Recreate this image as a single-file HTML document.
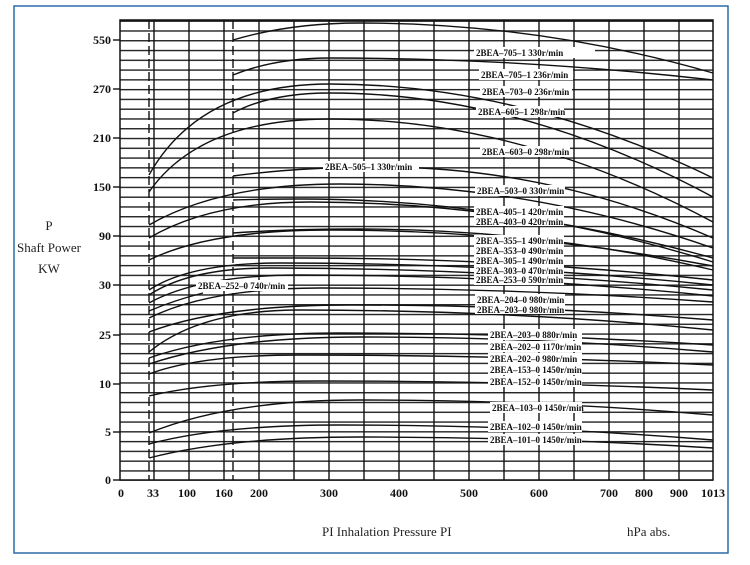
<!DOCTYPE html>
<html><head><meta charset="utf-8"><style>
html,body{margin:0;padding:0;background:#fff;}
svg{display:block;}
.t{font-family:"Liberation Serif",serif;font-weight:bold;font-size:12px;fill:#111;}
.l{font-family:"Liberation Serif",serif;font-weight:bold;font-size:9px;fill:#111;}
.a{font-family:"Liberation Serif",serif;font-size:13px;fill:#222;}
.c{fill:none;stroke:#111;stroke-width:1.4;}
</style></head><body>
<svg width="750" height="565" viewBox="0 0 750 565" xmlns="http://www.w3.org/2000/svg">
<defs>
<pattern id="hp" x="0" y="20.5" width="10" height="9.777" patternUnits="userSpaceOnUse">
<rect x="0" y="0" width="10" height="1.4" fill="#222"/>
</pattern>
</defs>
<rect x="14" y="6" width="714" height="547" fill="none" stroke="#2a6ca8" stroke-width="1.5"/>
<rect x="120" y="19.8" width="593" height="461" fill="url(#hp)"/>
<rect x="120" y="20" width="593" height="460" fill="none" stroke="#111" stroke-width="1.5"/>
<g stroke="#111" stroke-width="1.4">
<line x1="154" y1="20" x2="154" y2="480"/><line x1="189" y1="20" x2="189" y2="480"/>
<line x1="224" y1="20" x2="224" y2="480"/><line x1="259" y1="20" x2="259" y2="480"/>
<line x1="294" y1="20" x2="294" y2="480"/><line x1="329" y1="20" x2="329" y2="480"/>
<line x1="364" y1="20" x2="364" y2="480"/><line x1="399" y1="20" x2="399" y2="480"/>
<line x1="434" y1="20" x2="434" y2="480"/><line x1="469" y1="20" x2="469" y2="480"/>
<line x1="504" y1="20" x2="504" y2="480"/><line x1="539" y1="20" x2="539" y2="480"/>
<line x1="574" y1="20" x2="574" y2="480"/><line x1="609" y1="20" x2="609" y2="480"/>
<line x1="644" y1="20" x2="644" y2="480"/><line x1="679" y1="20" x2="679" y2="480"/>
<line x1="149" y1="20" x2="149" y2="480" stroke-dasharray="9,4"/>
<line x1="233" y1="20" x2="233" y2="480" stroke-dasharray="9,4"/>
<line x1="113" y1="40" x2="120" y2="40"/><line x1="113" y1="89" x2="120" y2="89"/>
<line x1="113" y1="138" x2="120" y2="138"/><line x1="113" y1="187" x2="120" y2="187"/>
<line x1="113" y1="236" x2="120" y2="236"/><line x1="113" y1="285" x2="120" y2="285"/>
<line x1="113" y1="335" x2="120" y2="335"/><line x1="113" y1="384" x2="120" y2="384"/>
<line x1="113" y1="432" x2="120" y2="432"/><line x1="113" y1="480" x2="120" y2="480"/>
</g>
<g class="c">
<path d="M233 40 Q290 23 360 23 Q540 23 713 73"/>
<path d="M233 75 Q275 58 330 58 Q520 58 713 80"/>
<path d="M149 175 Q200 84 330 84 Q520 84 713 178"/>
<path d="M233 113 Q270 93 330 93 Q520 93 713 197"/>
<path d="M149 192 Q200 119 330 119 Q520 119 713 222"/>
<path d="M233 176 Q300 167 380 167 Q550 167 713 238"/>
<path d="M149 225 Q220 184 340 184 Q530 184 713 248"/>
<path d="M233 200 Q260 199 300 199 Q510 199 713 262"/>
<path d="M149 238 Q210 202 310 202 Q510 202 713 258"/>
<path d="M233 233 Q290 229 360 229 Q540 229 713 270"/>
<path d="M149 260 Q210 230 330 230 Q520 230 713 266"/>
<path d="M233 258 Q260 258 300 258 Q510 258 713 280"/>
<path d="M149 290 Q190 263 280 263 Q500 263 713 285"/>
<path d="M149 295 Q190 268 270 268 Q490 268 713 290"/>
<path d="M149 303 Q200 275 300 275 Q510 275 713 296"/>
<path d="M149 311 Q175 300 203 293"/>
<path d="M149 318 Q210 288 320 288 Q520 288 713 302"/>
<path d="M149 332 Q220 305 350 305 Q530 305 713 320"/>
<path d="M149 352 Q200 310 300 310 Q510 310 713 330"/>
<path d="M149 358 Q220 333 340 333 Q530 333 713 345"/>
<path d="M149 364 Q230 337 360 337 Q540 337 713 352"/>
<path d="M149 374 Q200 355 300 355 Q510 355 713 365"/>
<path d="M149 396 Q210 381 320 381 Q520 381 713 390"/>
<path d="M149 433 Q230 400 360 400 Q540 400 713 415"/>
<path d="M149 444 Q220 425 340 425 Q530 425 713 440"/>
<path d="M149 458 Q230 437 360 437 Q540 437 713 448"/>
</g>
<g>
<rect x="474" y="47" width="121" height="11" fill="#fff"/><text class="l" x="476" y="56">2BEA–705–1 330r/min</text>
<rect x="479" y="69" width="94" height="11" fill="#fff"/><text class="l" x="481" y="78">2BEA–705–1 236r/min</text>
<rect x="480" y="86" width="92" height="11" fill="#fff"/><text class="l" x="482" y="95">2BEA–703–0 236r/min</text>
<rect x="476" y="106" width="88" height="11" fill="#fff"/><text class="l" x="478" y="115">2BEA–605–1 298r/min</text>
<rect x="480" y="146" width="90" height="11" fill="#fff"/><text class="l" x="482" y="155">2BEA–603–0 298r/min</text>
<rect x="323" y="161" width="96" height="11" fill="#fff"/><text class="l" x="325" y="170">2BEA–505–1 330r/min</text>
<rect x="475" y="185" width="90" height="11" fill="#fff"/><text class="l" x="477" y="194">2BEA–503–0 330r/min</text>
<rect x="474" y="206" width="90" height="20" fill="#fff"/><text class="l" x="476" y="215">2BEA–405–1 420r/min</text>
<text class="l" x="476" y="225">2BEA–403–0 420r/min</text>
<rect x="474" y="235" width="90" height="20" fill="#fff"/><text class="l" x="476" y="244">2BEA–355–1 490r/min</text>
<text class="l" x="476" y="254">2BEA–353–0 490r/min</text>
<rect x="474" y="255" width="90" height="30" fill="#fff"/><text class="l" x="476" y="264">2BEA–305–1 490r/min</text>
<text class="l" x="476" y="274">2BEA–303–0 470r/min</text>
<text class="l" x="476" y="283">2BEA–253–0 590r/min</text>
<rect x="196" y="280" width="92" height="11" fill="#fff"/><text class="l" x="198" y="289">2BEA–252–0 740r/min</text>
<rect x="475" y="294" width="90" height="20" fill="#fff"/><text class="l" x="477" y="303">2BEA–204–0 980r/min</text>
<text class="l" x="477" y="313">2BEA–203–0 980r/min</text>
<rect x="488" y="329" width="94" height="11" fill="#fff"/><text class="l" x="490" y="338">2BEA–203–0 880r/min</text>
<rect x="488" y="341" width="94" height="11" fill="#fff"/><text class="l" x="490" y="350">2BEA–202–0 1170r/min</text>
<rect x="488" y="353" width="94" height="11" fill="#fff"/><text class="l" x="490" y="362">2BEA–202–0 980r/min</text>
<rect x="488" y="364" width="94" height="11" fill="#fff"/><text class="l" x="490" y="373">2BEA–153–0 1450r/min</text>
<rect x="488" y="376" width="94" height="11" fill="#fff"/><text class="l" x="490" y="385">2BEA–152–0 1450r/min</text>
<rect x="490" y="402" width="92" height="11" fill="#fff"/><text class="l" x="492" y="411">2BEA–103–0 1450r/min</text>
<rect x="488" y="421" width="94" height="11" fill="#fff"/><text class="l" x="490" y="430">2BEA–102–0 1450r/min</text>
<rect x="488" y="434" width="94" height="11" fill="#fff"/><text class="l" x="490" y="443">2BEA–101–0 1450r/min</text>
</g>
<g class="t" text-anchor="end">
<text x="111" y="44">550</text><text x="111" y="93">270</text><text x="111" y="142">210</text>
<text x="111" y="191">150</text><text x="111" y="240">90</text><text x="111" y="289">30</text>
<text x="111" y="339">25</text><text x="111" y="388">10</text><text x="111" y="436">5</text>
<text x="111" y="484">0</text>
</g>
<g class="t" text-anchor="middle">
<text x="121" y="497">0</text><text x="153" y="497">33</text><text x="187" y="497">100</text>
<text x="224" y="497">160</text><text x="259" y="497">200</text><text x="329" y="497">300</text>
<text x="399" y="497">400</text><text x="469" y="497">500</text><text x="539" y="497">600</text>
<text x="609" y="497">700</text><text x="644" y="497">800</text><text x="679" y="497">900</text>
<text x="713" y="497">1013</text>
</g>
<g class="a" text-anchor="middle">
<text x="49" y="230">P</text><text x="49" y="252">Shaft Power</text><text x="49" y="273">KW</text>
</g>
<text class="a" x="322" y="536">PI Inhalation Pressure PI</text>
<text class="a" x="627" y="536">hPa abs.</text>
</svg>
</body></html>
